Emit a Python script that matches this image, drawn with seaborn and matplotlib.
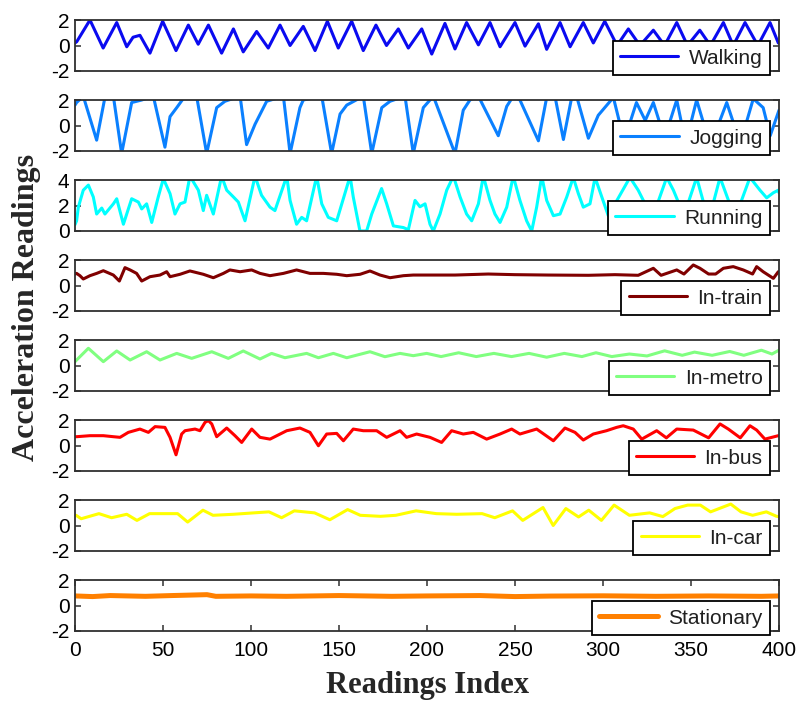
import matplotlib
matplotlib.use("Agg")
import matplotlib.pyplot as plt
import seaborn as sns
import pandas as pd

categories = ["Walking", "Jogging", "Running", "In-train", "In-metro", "In-bus", "In-car", "Stationary"]
colors = ["#0a0af0", "#0a80ff", "#00ffff", "#800000", "#80ff80", "#ff0000", "#ffff00", "#ff8000"]
x_ticks = [0, 50, 100, 150, 200, 250, 300, 350, 400]

# (reading index, acceleration) pairs
walking = [(0, 0.2), (1, 0.3), (8.5, 2.0), (16, -0.2), (23.7, 1.8), (29.4, -0.1), (33, 0.65), (36.9, 0.8),
           (42.6, -0.6), (49.8, 1.9), (57.4, -0.4), (64.4, 1.6), (70, 0.1), (75.8, 1.6), (83.3, -0.6),
           (90, 1.3), (95.6, -0.5), (103.2, 1.1), (109.8, -0.2), (116.5, 1.6), (122.2, 0.0), (129.7, 1.5),
           (136.4, -0.4), (143.4, 1.9), (149.6, -0.2), (157.2, 1.9), (163.8, -0.4), (171, 1.6), (177, 0.0),
           (183.7, 1.3), (189.4, -0.2), (197, 1.3), (202.7, -0.67), (210.2, 1.73), (215.9, -0.27),
           (222.5, 1.8), (229.2, 0.05), (235.8, 1.8), (241.5, -0.1), (250, 1.8), (255.7, -0.05),
           (263.3, 1.7), (268, -0.3), (275.6, 1.8), (281.3, -0.1), (288.8, 1.8), (294.5, 0.2), (301, 1.9),
           (308, 0.0), (314.4, 1.3), (321, 0.0), (328.6, 1.2), (335, 0.0), (341.9, 1.8), (348, 0.0),
           (355, 1.2), (361, 0.0), (368.4, 1.8), (374, 0.0), (380.7, 1.8), (388, 0.0), (394.9, 1.8),
           (399.6, 0.2)]

jogging = [(0, 1.6), (0.9, 1.8), (4.7, 2.3), (12.3, -1.15), (17, 2.2), (21.8, 2.3), (26.5, -2.2),
           (32.2, 1.8), (37.9, 2.0), (44.5, 2.3), (51.1, -1.7), (54, 0.7), (57.8, 1.4), (62.5, 2.3),
           (69.1, 2.3), (74.8, -2.2), (80.5, 1.4), (85.2, 1.9), (93.8, 2.3), (97.5, -1.5), (102.3, 0.1),
           (108.9, 1.9), (118.4, 2.3), (122.2, -2.2), (127.8, 1.4), (129.7, 2.0), (140.2, 2.3),
           (145.8, -2.2), (150.6, 0.9), (154.4, 1.6), (163.8, 2.3), (168.6, -2.2), (174.3, 1.4),
           (179, 1.9), (187.5, 2.3), (192.2, -2.2), (197.9, 1.4), (203.6, 2.3), (215.9, -2.2),
           (220.6, 1.2), (224.4, 2.0), (229.2, 2.3), (240.5, -0.8), (245.3, 1.5), (249, 2.3),
           (252.8, 2.0), (263.3, -1.2), (268, 2.2), (272.7, 2.3), (277.5, -1.1), (282.2, 2.2),
           (285, 2.3), (291.7, -1.0), (297.3, 0.8), (305.9, 2.2), (312, -1.2), (319, 1.8), (324, 0.4),
           (328.6, 1.8), (335, -1.0), (341.9, 2.0), (347, -1.4), (353.2, 2.0), (361, -1.6), (370.3, 1.8),
           (378, -1.4), (385.4, 2.1), (391, 1.4), (395, -0.8), (400, 1.2)]

running = [(0, 0.5), (0.9, 0.8), (1.9, 1.87), (4.7, 3.2), (7.6, 3.6), (10.4, 2.67), (12.3, 1.33),
           (15.2, 1.8), (17, 1.33), (21.8, 2.13), (23.7, 2.53), (27.5, 0.53), (32.2, 2.53), (36, 2.27),
           (37.9, 1.73), (40.7, 2.13), (43.6, 0.67), (47.3, 2.67), (50.2, 4.1), (54, 2.93), (56.8, 1.33),
           (59.7, 2.13), (62.5, 2.27), (65.3, 4.3), (70.1, 3.2), (72.9, 1.6), (74.8, 2.8), (78.6, 1.33),
           (83.3, 4.3), (86.2, 3.2), (90, 2.67), (92.8, 2.27), (96.6, 0.8), (102.3, 4.3), (106, 2.8),
           (110.8, 1.87), (113.6, 1.6), (120.3, 4.3), (122.2, 2.4), (125.9, 0.53), (128.8, 1.07),
           (131.6, 0.8), (137.3, 4.3), (140.2, 2.13), (143.9, 1.07), (148.7, 0.8), (156.3, 4.3),
           (158.1, 2.67), (161.9, 0.0), (165.7, 0.0), (168.6, 1.33), (174.2, 3.33), (177.1, 2.13),
           (180.9, 0.4), (186.6, 0.27), (189.4, 0.1), (193.2, 2.4), (196, 1.9), (198.9, 2.13),
           (201.7, 0.53), (203.6, 0.0), (207.4, 1.33), (211.2, 3.2), (215, 4.3), (218.8, 2.67),
           (222.5, 1.33), (225.4, 0.8), (229.2, 2.13), (232, 4.3), (235.8, 2.4), (238.6, 1.33),
           (241.5, 0.67), (245.3, 1.87), (249, 4.3), (252.8, 2.4), (256.6, 0.8), (259.5, 0.0),
           (262.3, 1.87), (265.2, 4.3), (268, 2.4), (271.8, 1.2), (275.6, 1.33), (279.4, 2.67),
           (283.1, 4.2), (286, 2.93), (288.8, 1.87), (292.6, 2.13), (295.5, 4.2), (303, 1.2), (315.3, 4.2),
           (320, 3.2), (328, 1.0), (336.2, 4.2), (340, 3.2), (346, 1.2), (353.2, 4.2), (360, 0.8),
           (366.5, 4.2), (375, 1.0), (383.5, 4.2), (389.2, 3.2), (393, 2.6), (396.8, 3.0), (399.6, 3.2),
           (400, 3.0)]

in_train = [(0, 0.9), (0.9, 0.95), (2.8, 0.77), (4.7, 0.51), (8.5, 0.77), (12.3, 0.95), (16.1, 1.16),
            (21.8, 0.82), (25.2, 0.35), (28.4, 1.4), (31.3, 1.22), (35, 0.95), (37.9, 0.35), (42.6, 0.69),
            (48.3, 0.82), (52.1, 1.08), (54, 0.69), (59.7, 0.88), (65.3, 1.14), (72.9, 0.88), (78.6, 0.61),
            (84.3, 0.95), (88, 1.22), (93.8, 1.08), (100.4, 1.22), (105.1, 0.95), (110.8, 0.77),
            (118.4, 0.95), (125.9, 1.22), (133.5, 0.95), (141.1, 0.95), (148.7, 0.88), (154.4, 0.77),
            (162, 0.88), (167.6, 1.14), (173.3, 0.82), (179, 0.61), (186.6, 0.77), (192.2, 0.82),
            (201.7, 0.82), (215.9, 0.82), (234.8, 0.9), (249.9, 0.85), (268.9, 0.82), (291.7, 0.8),
            (306.8, 0.85), (320, 0.8), (328.6, 1.35), (333, 0.8), (341.9, 1.22), (346, 0.9), (351.3, 1.61),
            (355.1, 1.35), (360, 0.9), (364, 0.9), (368.4, 1.35), (374, 1.48), (379.7, 1.22), (385, 0.9),
            (387.3, 1.48), (391, 1.08), (396.8, 0.56), (399.6, 1.08)]

in_metro = [(0, 0.3), (0.9, 0.43), (7.6, 1.35), (16.1, 0.3), (23.7, 1.14), (31.3, 0.43), (40.7, 1.08),
            (48.3, 0.43), (57.8, 0.95), (66.3, 0.56), (77.7, 1.08), (87.1, 0.56), (95.6, 1.14),
            (105.1, 0.51), (111.7, 0.95), (119.3, 0.61), (131.6, 0.95), (138.3, 0.61), (146.8, 0.95),
            (154.4, 0.61), (167.6, 1.08), (176.1, 0.69), (184.7, 0.95), (192.2, 0.77), (199.8, 0.95),
            (208, 0.7), (218, 1.0), (228, 0.7), (238, 0.95), (248, 0.7), (258, 0.95), (268, 0.65),
            (278, 0.95), (288, 0.7), (296, 1.0), (305, 0.7), (315, 0.9), (325, 0.75), (335, 1.15),
            (345, 0.8), (352, 1.05), (362, 0.8), (372, 1.1), (380, 0.8), (390, 1.2), (396, 0.9), (400, 1.2)]

in_bus = [(0, 0.7), (0.9, 0.69), (8.5, 0.77), (16.1, 0.77), (21.8, 0.69), (25.6, 0.64), (30.3, 1.03),
          (36.9, 1.29), (41.7, 1.03), (45.5, 1.48), (51.1, 1.42), (54, 0.64), (57.4, -0.73), (60.6, 0.9),
          (62.5, 1.16), (68.2, 1.29), (71, 1.16), (73.9, 1.82), (75.8, 1.95), (77.7, 1.69), (80.5, 0.69),
          (86.2, 1.37), (90.9, 0.77), (94.7, 0.24), (100.4, 1.29), (105.1, 0.64), (110.8, 0.5),
          (120.3, 1.16), (127.8, 1.37), (133.5, 1.03), (138.3, -0.02), (143, 0.9), (148.7, 0.95),
          (152.5, 0.37), (158.1, 1.29), (163.8, 1.16), (171.4, 1.16), (177.1, 0.64), (184.7, 1.16),
          (188.4, 0.64), (194.1, 0.9), (201.7, 0.64), (208.3, 0.24), (214, 1.16), (220.6, 0.9),
          (226.3, 1.03), (233.9, 0.5), (241.5, 0.9), (248.1, 1.29), (252.8, 0.9), (262.3, 1.29),
          (271.8, 0.37), (278.4, 1.37), (284.1, 1.03), (288.8, 0.43), (294.5, 0.9), (302, 1.16),
          (307.7, 1.42), (311.5, 1.55), (317.2, 1.29), (322, 0.5), (330.5, 1.16), (336, 0.6),
          (341.9, 1.29), (351.3, 1.21), (360, 0.6), (366.5, 1.69), (371.2, 1.29), (378, 0.6),
          (383.5, 1.55), (387.3, 1.21), (392, 0.5), (399.6, 0.77)]

in_car = [(0, 0.75), (0.6, 0.8), (3.5, 0.53), (13.6, 0.93), (20.8, 0.61), (29.4, 0.88), (35.2, 0.4),
          (42.4, 0.93), (58.3, 0.93), (64, 0.27), (72.7, 1.2), (78.4, 0.8), (90, 0.88), (101.5, 0.99),
          (110.2, 1.07), (117.4, 0.61), (124.6, 1.15), (136.1, 0.99), (144.8, 0.45), (154.9, 1.25),
          (162.1, 0.8), (173.6, 0.72), (182.3, 0.8), (193.8, 1.15), (205.3, 0.93), (216.9, 0.88),
          (231.3, 0.93), (238.5, 0.61), (248.6, 1.15), (254.4, 0.4), (265.9, 1.41), (271.7, 0.0),
          (278.9, 1.33), (286.1, 0.67), (291.9, 1.2), (299.1, 0.4), (306.3, 1.6), (315, 0.8),
          (326.5, 0.99), (334, 0.7), (340.9, 1.33), (348.1, 1.6), (355.3, 1.6), (361.1, 1.07),
          (372.6, 1.68), (378.4, 1.07), (385, 0.8), (392.8, 1.07), (398.6, 0.72), (400, 0.7)]

stationary = [(0, 0.75), (10, 0.7), (20, 0.78), (40, 0.72), (55, 0.78), (75, 0.85), (80, 0.72),
              (100, 0.75), (120, 0.72), (150, 0.78), (180, 0.72), (200, 0.75), (230, 0.78), (250, 0.7),
              (270, 0.74), (300, 0.76), (330, 0.72), (360, 0.75), (390, 0.72), (400, 0.75)]

series = [walking, jogging, running, in_train, in_metro, in_bus, in_car, stationary]
y_ranges = [(-2, 2), (-2, 2), (0, 4), (-2, 2), (-2, 2), (-2, 2), (-2, 2), (-2, 2)]

sns.set_style("white")
plt.rcParams["font.family"] = ["Liberation Sans", "DejaVu Sans"]
plt.rcParams["axes.unicode_minus"] = False

W, H = 797, 704
fig = plt.figure(figsize=(W / 100, H / 100), dpi=100)
n = len(categories)
for i, (name, pts, col, yr) in enumerate(zip(categories, series, colors, y_ranges)):
    top = 20 + 80 * i
    ax = fig.add_axes([75 / W, 1 - (top + 51) / H, 704 / W, 51 / H])
    df = pd.DataFrame(pts, columns=["idx", "val"])
    lw = 3.6 if name == "Stationary" else 2.2
    sns.lineplot(data=df, x="idx", y="val", ax=ax, color=col, linewidth=lw,
                 label=name, estimator=None, sort=False)
    ax.set_xlim(0, 400)
    ax.set_ylim(*yr)
    ax.set_yticks([yr[0], (yr[0] + yr[1]) / 2, yr[1]])
    ax.set_yticklabels([str(int(v)) for v in [yr[0], (yr[0] + yr[1]) / 2, yr[1]]])
    ax.set_xlabel("")
    ax.set_ylabel("")
    for s in ax.spines.values():
        s.set_color("#303030")
        s.set_linewidth(1.3)
    ax.tick_params(axis="y", direction="in", left=True, right=True, length=4,
                   width=1.1, labelsize=15, pad=4, colors="#303030", labelcolor="black")
    if i == n - 1:
        ax.set_xticks(x_ticks)
        ax.tick_params(axis="x", direction="in", bottom=True, top=True, length=4,
                       width=1.1, labelsize=15, pad=7, colors="#303030", labelcolor="black")
    else:
        ax.set_xticks(x_ticks)
        ax.tick_params(axis="x", bottom=False, labelbottom=False)
    leg = ax.legend(loc="lower right", bbox_to_anchor=(0.987, -0.08), borderaxespad=0,
                    frameon=True, fancybox=False, fontsize=15, handlelength=2.8,
                    handletextpad=0.5, borderpad=0.35, framealpha=1)
    leg.get_frame().set_edgecolor("black")
    leg.get_frame().set_linewidth(1.3)
    for t in leg.get_texts():
        t.set_color("#202020")

fig.text(427 / W, 1 - 685 / H, "Readings Index", ha="center", va="center",
         fontsize=22, fontweight="bold", family=["Liberation Serif", "DejaVu Serif"])
fig.text(27 / W, 1 - 307 / H, "Acceleration Readings", ha="center", va="center", rotation=90,
         fontsize=23, fontweight="bold", family=["Liberation Serif", "DejaVu Serif"])

fig.savefig("out.png", dpi=100)
